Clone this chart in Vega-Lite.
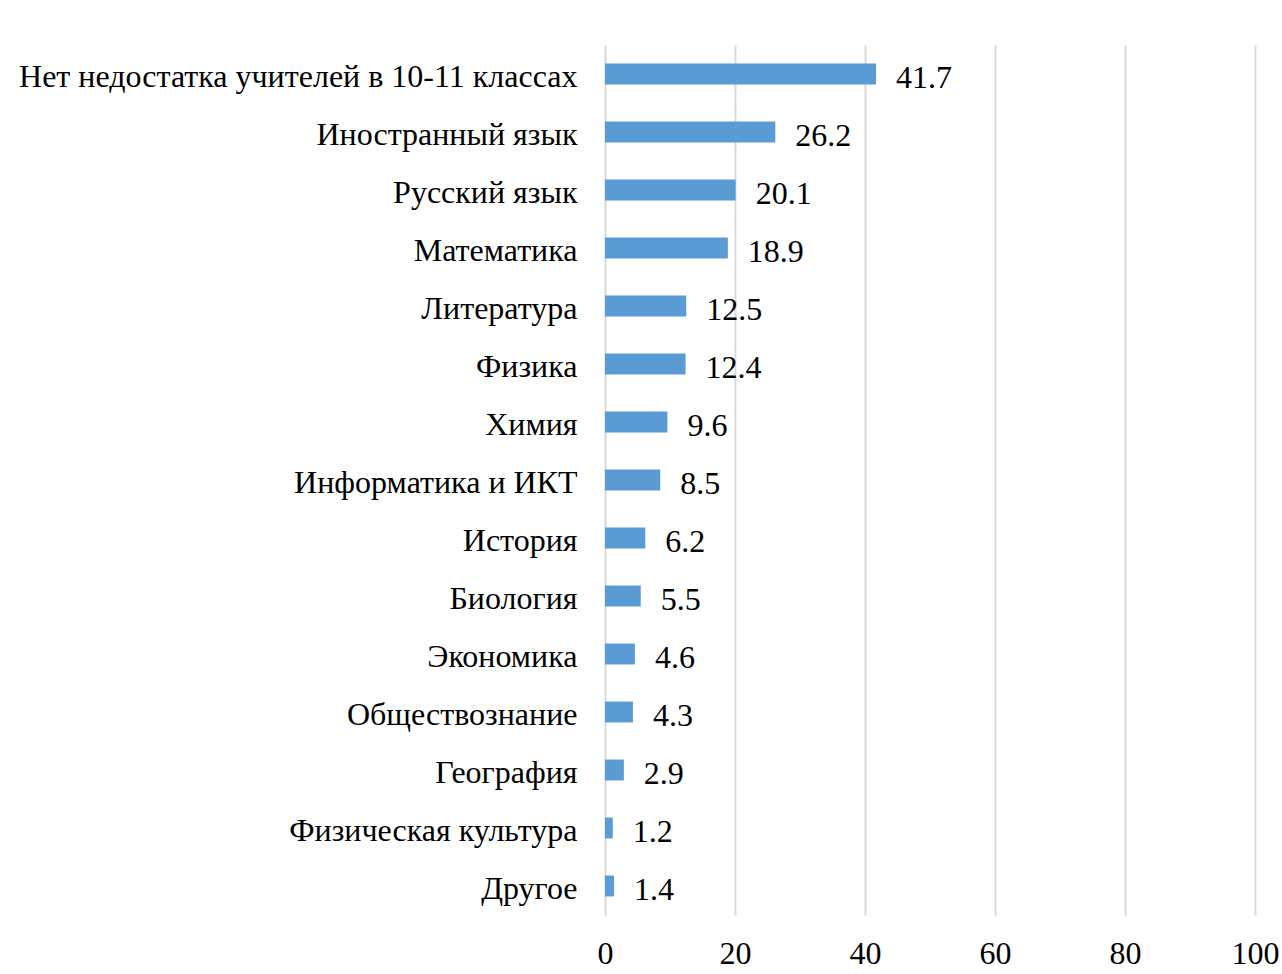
{
  "$schema": "https://vega.github.io/schema/vega-lite/v6.json",
  "width": 650,
  "height": 870,
  "autosize": {"type": "none"},
  "padding": {"left": 605, "top": 45, "right": 27, "bottom": 59},
  "background": "white",
  "config": {"view": {"stroke": null}, "font": "Liberation Serif"},
  "data": {
    "values": [
      {"category": "Нет недостатка учителей в 10-11 классах", "value": 41.7},
      {"category": "Иностранный язык", "value": 26.2},
      {"category": "Русский язык", "value": 20.1},
      {"category": "Математика", "value": 18.9},
      {"category": "Литература", "value": 12.5},
      {"category": "Физика", "value": 12.4},
      {"category": "Химия", "value": 9.6},
      {"category": "Информатика и ИКТ", "value": 8.5},
      {"category": "История", "value": 6.2},
      {"category": "Биология", "value": 5.5},
      {"category": "Экономика", "value": 4.6},
      {"category": "Обществознание", "value": 4.3},
      {"category": "География", "value": 2.9},
      {"category": "Физическая культура", "value": 1.2},
      {"category": "Другое", "value": 1.4}
    ]
  },
  "encoding": {
    "y": {
      "field": "category",
      "type": "nominal",
      "sort": null,
      "scale": {"paddingInner": 0.64, "paddingOuter": 0.32},
      "axis": {
        "title": null,
        "domain": false,
        "ticks": false,
        "labelFontSize": 32,
        "labelColor": "#000000",
        "labelPadding": 28,
        "labelOffset": 3,
        "labelLimit": 700,
        "labelFont": "Liberation Serif"
      }
    },
    "x": {
      "field": "value",
      "type": "quantitative",
      "scale": {"domain": [0, 100]},
      "axis": {
        "title": null,
        "values": [0, 20, 40, 60, 80, 100],
        "domain": false,
        "ticks": false,
        "grid": true,
        "gridColor": "#d9d9d9",
        "gridWidth": 2,
        "labelFontSize": 32,
        "labelColor": "#000000",
        "labelPadding": 23,
        "labelFlush": false,
        "labelFont": "Liberation Serif"
      }
    }
  },
  "layer": [
    {"mark": {"type": "bar", "color": "#5b9bd5"}},
    {
      "mark": {"type": "text", "align": "left", "baseline": "middle", "dx": 20, "dy": 4, "fontSize": 32, "color": "#000000", "font": "Liberation Serif"},
      "encoding": {"text": {"field": "value", "type": "quantitative", "format": ".1f"}}
    }
  ]
}
